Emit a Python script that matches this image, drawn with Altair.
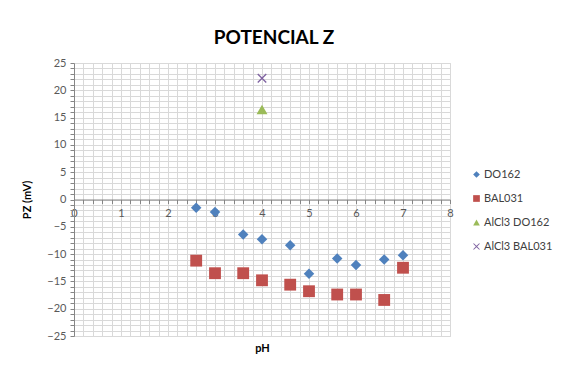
import altair as alt
import pandas as pd

# ---- data ----
ph_do162 = [2.6, 3.0, 3.6, 4.0, 4.6, 5.0, 5.6, 6.0, 6.6, 7.0]
pz_do162 = [-1.5, -2.3, -6.4, -7.3, -8.4, -13.6, -10.8, -12.0, -11.0, -10.2]
ph_bal031 = [2.6, 3.0, 3.6, 4.0, 4.6, 5.0, 5.6, 6.0, 6.6, 7.0]
pz_bal031 = [-11.2, -13.5, -13.5, -14.8, -15.6, -16.8, -17.4, -17.4, -18.4, -12.5]
ph_alcl3_do162 = [4.0]
pz_alcl3_do162 = [16.5]
ph_alcl3_bal031 = [4.0]
pz_alcl3_bal031 = [22.2]

series_names = ["DO162", "BAL031", "AlCl3 DO162", "AlCl3 BAL031"]
series_colors = ["#4F81BD", "#C0504D", "#9BBB59", "#8064A2"]
x_path = ("M-1,-0.8L-0.8,-1L0,-0.2L0.8,-1L1,-0.8L0.2,0L1,0.8L0.8,1L0,0.2"
          "L-0.8,1L-1,0.8L-0.2,0Z")
series_shapes = ["diamond", "square", "triangle-up", x_path]
series_sizes = [110, 140, 120, 90]

rows = []
for name, sz, xs, ys in [
    ("DO162", series_sizes[0], ph_do162, pz_do162),
    ("BAL031", series_sizes[1], ph_bal031, pz_bal031),
    ("AlCl3 DO162", series_sizes[2], ph_alcl3_do162, pz_alcl3_do162),
    ("AlCl3 BAL031", series_sizes[3], ph_alcl3_bal031, pz_alcl3_bal031),
]:
    for x, y in zip(xs, ys):
        rows.append({"series": name, "pH": x, "PZ": y, "sz": sz})
df = pd.DataFrame(rows)

x_vals = [round(i * 0.2, 1) for i in range(41)]
y_vals = list(range(-25, 26))

W, H = 376, 273

chart = alt.Chart(df).mark_point(filled=True, opacity=1).encode(
    x=alt.X("pH:Q",
            scale=alt.Scale(domain=[0, 8], nice=False, zero=False),
            axis=alt.Axis(values=x_vals, offset=-H / 2,
                          labelExpr="abs(datum.value - round(datum.value)) < 0.001 ? format(datum.value, 'd') : ''",
                          title="pH", titleY=H / 2 + 6, titleFontWeight="bold",
                          titleFontSize=11, tickSize=4, labelPadding=4,
                          labelFontSize=11, labelColor="#595959",
                          domainColor="#868686", tickColor="#868686",
                          gridColor="#D9D9D9", labelFlush=False)),
    y=alt.Y("PZ:Q",
            scale=alt.Scale(domain=[-25, 25], nice=False, zero=False),
            axis=alt.Axis(values=y_vals,
                          labelExpr="datum.value % 5 == 0 ? datum.label : ''",
                          title="PZ (mV)", titleFontWeight="bold", titleFontSize=11,
                          titlePadding=14, tickSize=4, labelPadding=4,
                          labelFontSize=11, labelColor="#595959",
                          domainColor="#868686", tickColor="#868686",
                          gridColor="#D9D9D9")),
    color=alt.Color("series:N",
                    scale=alt.Scale(domain=series_names, range=series_colors),
                    legend=alt.Legend(title=None, orient="none", legendX=397, legendY=106,
                                      labelFontSize=11, labelColor="#404040",
                                      symbolSize=45, rowPadding=12, labelOffset=2)),
    shape=alt.Shape("series:N",
                    scale=alt.Scale(domain=series_names, range=series_shapes)),
    size=alt.Size("sz:Q", scale=None),
).properties(
    width=W, height=H,
    title=alt.TitleParams("POTENCIAL Z", fontSize=19, fontWeight="bold",
                          anchor="middle", dx=12, offset=9, color="#000000"),
    autosize=alt.AutoSizeParams(type="none"),
    padding={"left": 66, "top": 55, "right": 103, "bottom": 24},
).configure(
    font="Lato"
).configure_view(
    stroke="#D9D9D9"
)

chart.save("out.html", embed_options={"renderer": "svg", "actions": False})
